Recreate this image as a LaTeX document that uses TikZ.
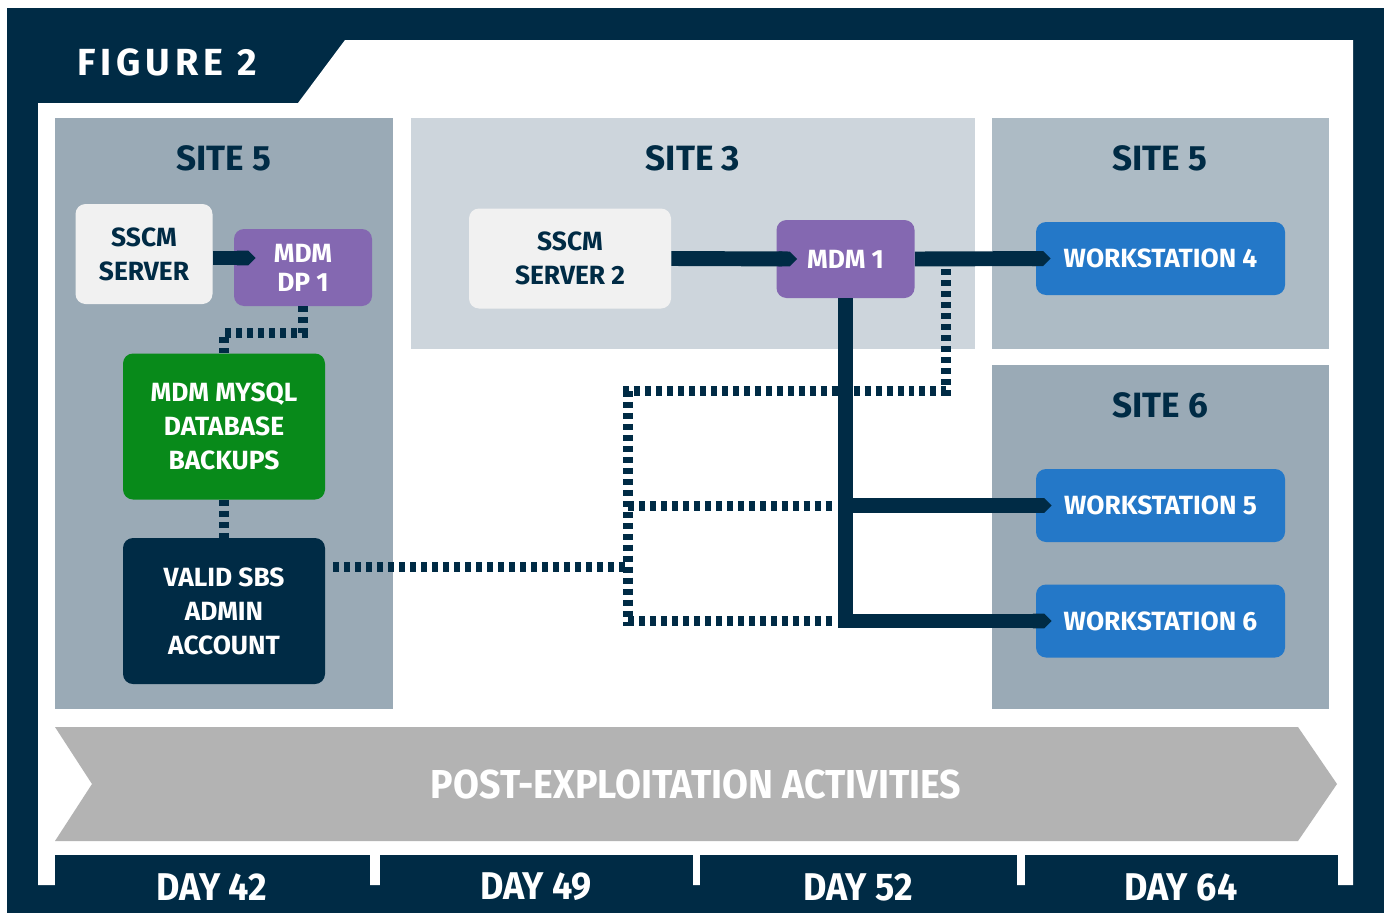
\documentclass[tikz,border=0pt]{standalone}
\usepackage{fontspec}
\setmainfont{Fira Sans}
\newfontfamily\condfont[FakeStretch=0.93]{Fira Sans}
\newfontfamily\spacedfont[LetterSpace=13]{Fira Sans}
\usetikzlibrary{positioning,calc,arrows.meta}

\definecolor{figNavy}{HTML}{002B45}
\definecolor{panelDark}{HTML}{9AAAB6}
\definecolor{panelMid}{HTML}{ADBBC5}
\definecolor{panelLight}{HTML}{CDD5DC}
\definecolor{boxLight}{HTML}{F1F1F1}
\definecolor{mdmPurple}{HTML}{8468B1}
\definecolor{dbGreen}{HTML}{088A1A}
\definecolor{wsBlue}{HTML}{2478C8}
\definecolor{chevGray}{HTML}{B3B3B3}

\begin{document}
\begin{tikzpicture}[x=0.02cm, y=-0.02cm,
        box/.style={rounded corners=5.7pt, align=center, inner sep=0pt,
            font=\bfseries\fontsize{15}{19.4}\selectfont},
        sitetitle/.style={text=figNavy, font=\bfseries\fontsize{20}{24}\selectfont},
        link/.style={draw=figNavy, line width=8.5pt, -{Triangle Cap[]}},
        dotlink/.style={draw=figNavy, line width=5.7pt, dash pattern=on 3.4pt off 2.85pt},
        daylabel/.style={text=white, font=\condfont\bfseries\fontsize{22}{26}\selectfont}]

    % one pixel of the 1386 x 913 canvas
    \pgfmathsetmacro{\pxunit}{0.02*28.45274}

    \useasboundingbox (0,0) rectangle (1386,913);

    % Frame with the figure tab
    \fill[figNavy] (7,8) rectangle (1384,913);
    \fill[white] (38,103) -- (298,103) -- (345,40) -- (1353,40)
        -- (1353,885) -- (38,885) -- cycle;
    \node[anchor=west, inner sep=0pt, text=white,
        font=\spacedfont\bfseries\fontsize{21.5}{26}\selectfont]
        (figtitle) at (77,62) {FIGURE 2};

    % Site panels
    \fill[panelDark] (55,118) rectangle (393,709);
    \fill[panelLight] (411,118) rectangle (975,349);
    \fill[panelMid] (992,118) rectangle (1329,349);
    \fill[panelDark] (992,365) rectangle (1329,709);

    \node[sitetitle] (siteA) at (224,158) {SITE 5};
    \node[sitetitle] (siteB) at (693,158) {SITE 3};
    \node[sitetitle] (siteC) at (1160,158) {SITE 5};
    \node[sitetitle] (siteD) at (1160,405) {SITE 6};

    % Systems
    \node[box, fill=boxLight, text=figNavy, minimum width=137*\pxunit, minimum height=100*\pxunit]
        (sscm) at (144,254) {SSCM\\SERVER};
    \node[box, fill=mdmPurple, text=white, minimum width=138*\pxunit, minimum height=77*\pxunit,
        font=\bfseries\fontsize{15}{16.5}\selectfont]
        (dp1) at (303,267.5) {MDM\\DP 1};
    \node[box, fill=dbGreen, text=white, minimum width=202*\pxunit, minimum height=146*\pxunit]
        (mysql) at (224,426.5) {MDM MYSQL\\DATABASE\\BACKUPS};
    \node[box, fill=figNavy, text=white, minimum width=202*\pxunit, minimum height=146*\pxunit]
        (account) at (224,611) {VALID SBS\\ADMIN\\ACCOUNT};
    \node[box, fill=boxLight, text=figNavy, minimum width=202*\pxunit, minimum height=100*\pxunit]
        (sscm2) at (570,258.5) {SSCM\\SERVER 2};
    \node[box, fill=mdmPurple, text=white, minimum width=138*\pxunit, minimum height=78*\pxunit]
        (mdm1) at (845.5,259) {MDM 1};
    \node[box, fill=wsBlue, text=white, minimum width=249*\pxunit, minimum height=73*\pxunit]
        (ws4) at (1160.5,258.5) {WORKSTATION 4};
    \node[box, fill=wsBlue, text=white, minimum width=249*\pxunit, minimum height=73*\pxunit]
        (ws5) at (1160.5,505.5) {WORKSTATION 5};
    \node[box, fill=wsBlue, text=white, minimum width=249*\pxunit, minimum height=73*\pxunit]
        (ws6) at (1160.5,621) {WORKSTATION 6};

    % Credential paths (dotted)
    \coordinate (busNW) at (628,391);
    \coordinate (busSW) at (628,626);
    \coordinate (busNE) at (946,391);
    \coordinate (tap) at (946,262);
    \coordinate (acctOut) at ($(account.north east)+(8,29)$);

    \draw[dotlink] (dp1.south) -- ++(0,27) -| (mysql.north);
    \draw[dotlink] (mysql.south) -- (account.north);
    \draw[dotlink] (acctOut) -- (busNW |- acctOut);
    \draw[dotlink] (busNW) -- (busSW);
    \draw[dotlink] ($(busNW)+(-5,0)$) -- (busNE) -- (tap);
    \draw[dotlink] (busNW |- ws5.west) -- ($(mdm1.south |- ws5.west)+(-13,0)$);
    \draw[dotlink] (busNW |- ws6.west) -- ($(mdm1.south |- ws6.west)+(-13,0)$);

    % Distribution paths (solid)
    \draw[link] ($(sscm.east)+(0,4)$) -- ($(dp1.west |- sscm.east)+(22,4)$);
    \draw[link] (sscm2.east) -- ($(mdm1.west)+(21,0)$);
    \draw[link] (mdm1.east) -- ($(ws4.west)+(15,0)$);
    \draw[link] (mdm1.south |- ws5.west) -- ($(ws5.west)+(16,0)$);
    \draw[link] (mdm1.south) |- ($(ws6.west)+(16,0)$);

    % Phase banner
    \fill[chevGray] (55,727) -- (1298,727) -- (1337,784) -- (1298,841)
        -- (55,841) -- (92,784) -- cycle;
    \node[text=white, font=\condfont\bfseries\fontsize{23}{28}\selectfont]
        (phase) at (696,784) {POST-EXPLOITATION ACTIVITIES};

    % Timeline
    \fill[figNavy] (55,855) rectangle (370,913);
    \fill[figNavy] (380,855) rectangle (693,913);
    \fill[figNavy] (700,855) rectangle (1017,913);
    \fill[figNavy] (1025,855) rectangle (1338,913);
    \node[daylabel] (day42) at (212,887) {DAY 42};
    \node[daylabel] (day49) at (536,887) {DAY 49};
    \node[daylabel] (day52) at (858,887) {DAY 52};
    \node[daylabel] (day64) at (1181,887) {DAY 64};
\end{tikzpicture}
\end{document}
